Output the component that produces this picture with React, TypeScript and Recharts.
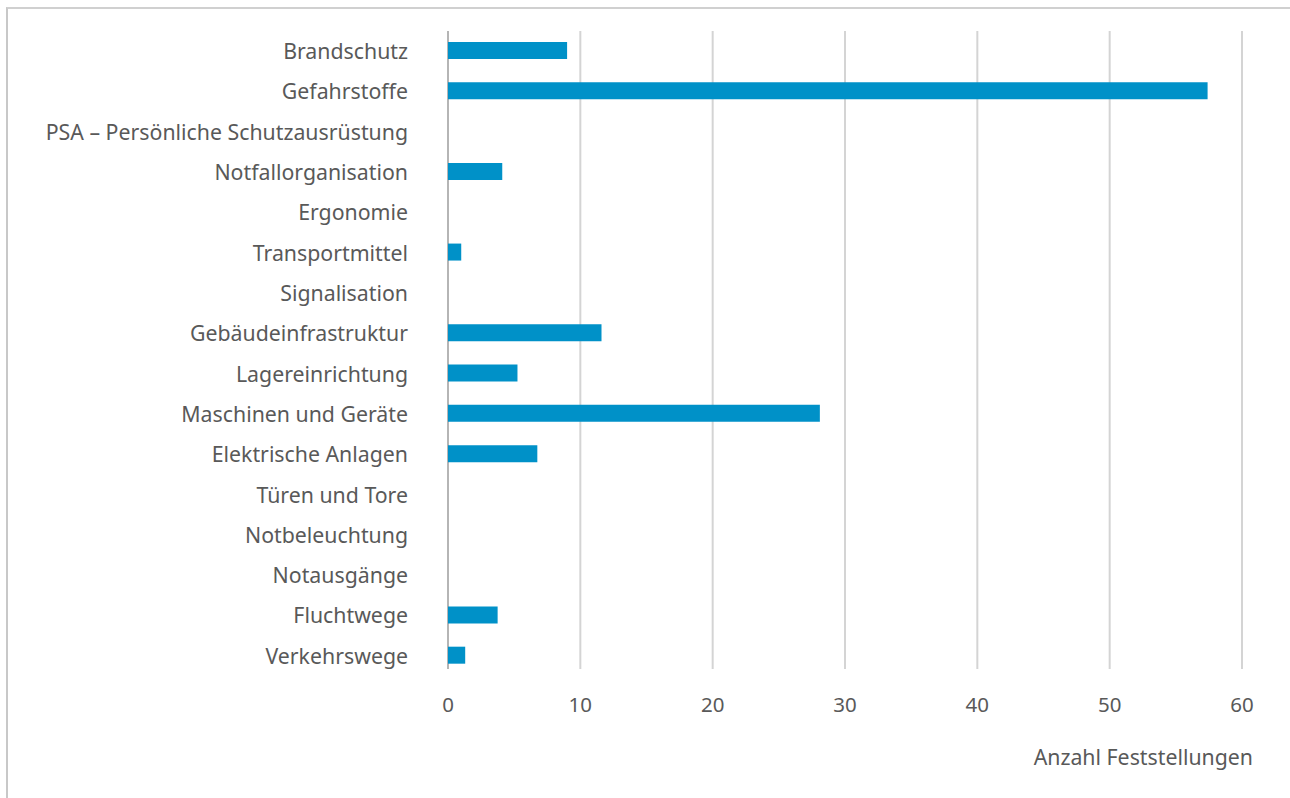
import React from "react";
import { BarChart, Bar, XAxis, YAxis, CartesianGrid, Label } from "recharts";

const categories = [
  "Brandschutz",
  "Gefahrstoffe",
  "PSA – Persönliche Schutzausrüstung",
  "Notfallorganisation",
  "Ergonomie",
  "Transportmittel",
  "Signalisation",
  "Gebäudeinfrastruktur",
  "Lagereinrichtung",
  "Maschinen und Geräte",
  "Elektrische Anlagen",
  "Türen und Tore",
  "Notbeleuchtung",
  "Notausgänge",
  "Fluchtwege",
  "Verkehrswege",
];
const values = [9, 57.4, 0, 4.1, 0, 1, 0, 11.6, 5.25, 28.1, 6.75, 0, 0, 0, 3.75, 1.3];
const xTicks = [0, 10, 20, 30, 40, 50, 60];
const axisTitle = "Anzahl Feststellungen";

const data = categories.map((c, i) => ({ name: c, value: values[i] }));

const FONT = "'Noto Sans', 'Liberation Sans', Arial, sans-serif";
const TEXT = "#595959";

const YTick = (props: any) => {
  const { x, y, payload } = props;
  return (
    <text x={x} y={y} dy="0.42em" textAnchor="end" fill={TEXT} fontSize={21.3} fontFamily={FONT}>
      {payload.value}
    </text>
  );
};

const XTick = (props: any) => {
  const { x, payload } = props;
  return (
    <text x={x} y={712} textAnchor="middle" fill={TEXT} fontSize={20.5} fontFamily={FONT}>
      {payload.value}
    </text>
  );
};

export default function App() {
  return (
    <div
      style={{
        position: "absolute",
        left: 0,
        top: 0,
        width: 1290,
        height: 798,
        overflow: "hidden",
        background: "#fff",
      }}
    >
      <div
        style={{
          position: "absolute",
          left: 6,
          top: 7,
          width: 1300,
          height: 800,
          borderTop: "2px solid #d0d0d0",
          borderLeft: "2px solid #c8c8c8",
        }}
      />
      <div style={{ position: "absolute", left: 0, top: 0 }}>
        <BarChart
          width={1290}
          height={798}
          data={data}
          layout="vertical"
          margin={{ top: 30, right: 48, left: 0, bottom: 0 }}
          barSize={17}
        >
          <CartesianGrid
            horizontal={false}
            vertical={true}
            stroke="#d4d4d4"
            strokeWidth={2}
            y={31}
            height={638}
          />
          <CartesianGrid
            horizontal={false}
            vertical={true}
            stroke="#b5b5b5"
            strokeWidth={2}
            y={31}
            height={638}
            verticalCoordinatesGenerator={({ offset }: any) => [offset.left]}
          />
          <XAxis
            type="number"
            domain={[0, 60]}
            ticks={xTicks}
            axisLine={false}
            tickLine={false}
            height={123}
            tick={<XTick />}
            interval={0}
          >
            <Label
              content={(p: any) => {
                const vb = p.viewBox;
                return (
                  <text
                    x={vb.x + vb.width + 11}
                    y={765}
                    textAnchor="end"
                    fill={TEXT}
                    fontSize={21.3}
                    fontFamily={FONT}
                  >
                    {axisTitle}
                  </text>
                );
              }}
            />
          </XAxis>
          <YAxis
            type="category"
            dataKey="name"
            width={448}
            axisLine={false}
            tickLine={false}
            tickSize={0}
            tickMargin={40}
            interval={0}
            tick={<YTick />}
          />
          <Bar dataKey="value" fill="#0091C8" isAnimationActive={false} />
        </BarChart>
      </div>
    </div>
  );
}
